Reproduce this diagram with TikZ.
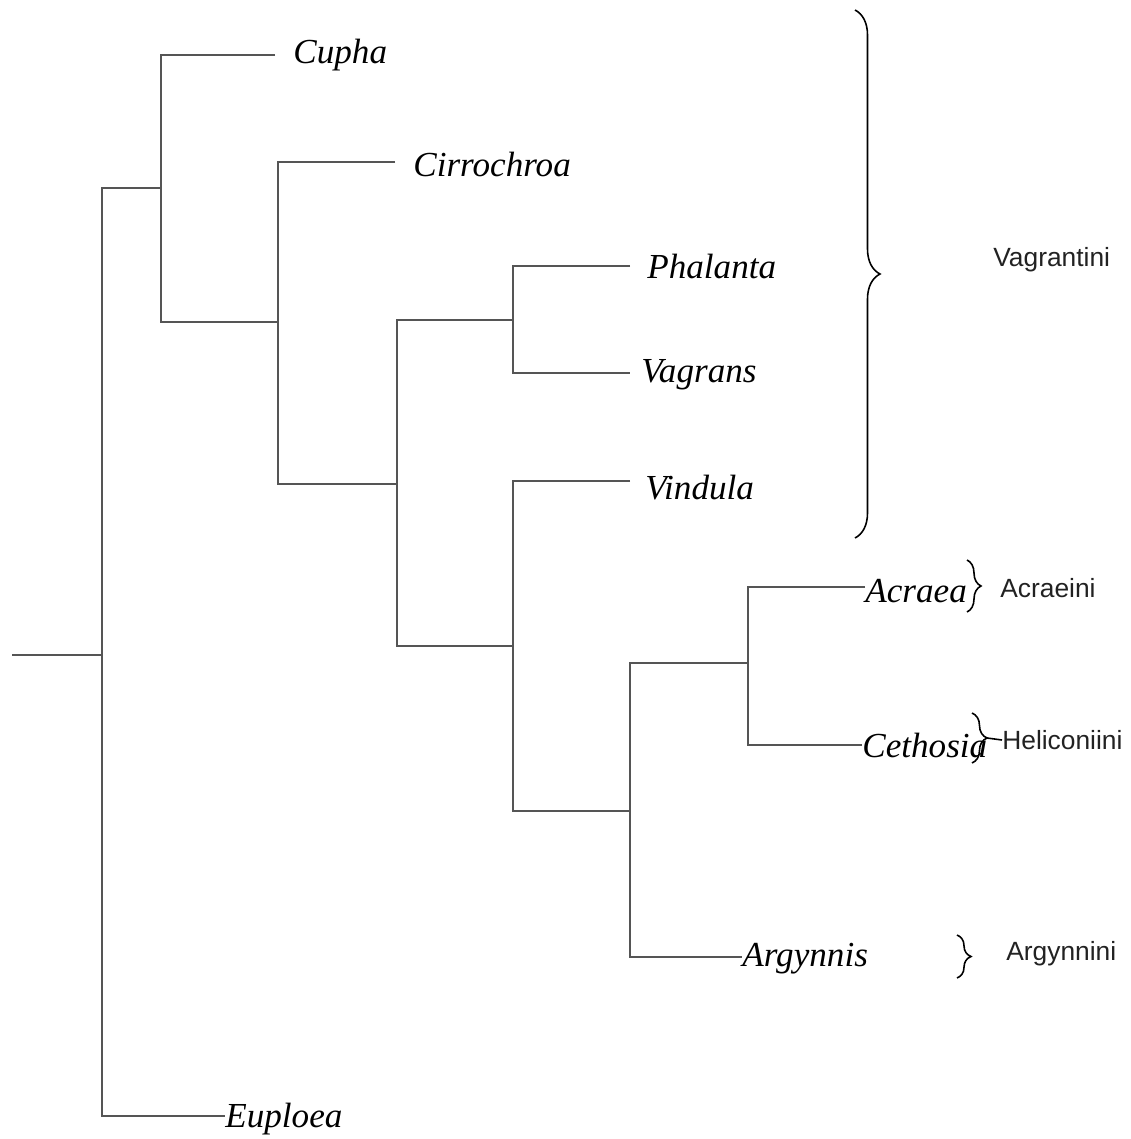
\documentclass[tikz,border=0pt]{standalone}
\usepackage{fontspec}
\setmainfont{Liberation Serif}
\newfontfamily\labfont{Liberation Sans}
\usetikzlibrary{decorations.pathreplacing}
\definecolor{branchgray}{HTML}{555555}
\definecolor{labgray}{HTML}{222222}
\begin{document}
\begin{tikzpicture}[x=0.02cm,y=-0.02cm,
  branch/.style={draw=branchgray,line width=1.1pt,line join=miter},
  taxon/.style={anchor=west,inner sep=0pt,font=\fontsize{20}{23}\selectfont\itshape},
  tribe/.style={anchor=west,inner sep=0pt,text=labgray,font=\fontsize{15}{18}\selectfont\labfont},
  bracket/.style={draw=black,line width=0.9pt,decorate,decoration={brace,amplitude=#1}}]
\useasboundingbox (0,0) rectangle (1131,1139);
% internal nodes
\coordinate (root) at (12,655);
\coordinate (n0) at (102,655);
\coordinate (nA) at (161,188);
\coordinate (nB) at (278,322);
\coordinate (nC) at (397,484);
\coordinate (nD) at (513,320);
\coordinate (nE) at (513,646);
\coordinate (nF) at (630,811);
\coordinate (nG) at (748,663);
% leaf ends
\coordinate (eCupha) at (275,55);
\coordinate (eCirro) at (395,162);
\coordinate (ePhal) at (630,266);
\coordinate (eVagr) at (630,373);
\coordinate (eVind) at (630,481);
\coordinate (eAcr) at (865,587);
\coordinate (eCeth) at (862,745);
\coordinate (eArg) at (742,957);
\coordinate (eEup) at (225,1116);
% taxa
\node[taxon] (cupha) at (293,55) {Cupha};
\node[taxon] (cirro) at (413,164) {Cirrochroa};
\node[taxon] (phal) at (647,266) {Phalanta};
\node[taxon] (vagr) at (641,375) {Vagrans};
\node[taxon] (vind) at (645,488) {Vindula};
\node[taxon] (acr) at (865,591) {Acraea};
\node[taxon] (ceth) at (862,745) {Cethosia};
\node[taxon] (arg) at (742,959) {Argynnis};
\node[taxon] (eup) at (225,1119) {Euploea};
% tree
\draw[branch] (root) -- (n0);
\draw[branch] (nA) -| (n0) |- (eEup);
\draw[branch] (eCupha) -| (nA) |- (nB);
\draw[branch] (eCirro) -| (nB) |- (nC);
\draw[branch] (nD) -| (nC) |- (nE);
\draw[branch] (ePhal) -| (nD) |- (eVagr);
\draw[branch] (eVind) -| (nE) |- (nF);
\draw[branch] (nG) -| (nF) |- (eArg);
\draw[branch] (eAcr) -| (nG) |- (eCeth);
% tribes
\node[tribe] (vagrantini) at (993,260) {Vagrantini};
\node[tribe] (acraeini) at (1000,588) {Acraeini};
\node[tribe] (helic) at (1002,740) {Heliconiini};
\node[tribe] (argynnini) at (1006,954) {Argynnini};
% braces
\draw[bracket=0.5cm] (855,10) -- (855,538);
\draw[bracket=0.28cm] (967,560) -- (967,612);
\draw[bracket=0.3cm] (972,713) -- (972,763);
\coordinate (cethtip) at (987,738);
\draw[line width=0.9pt] (cethtip) -- (helic.west);
\draw[bracket=0.28cm] (957,935) -- (957,978);
\end{tikzpicture}
\end{document}
